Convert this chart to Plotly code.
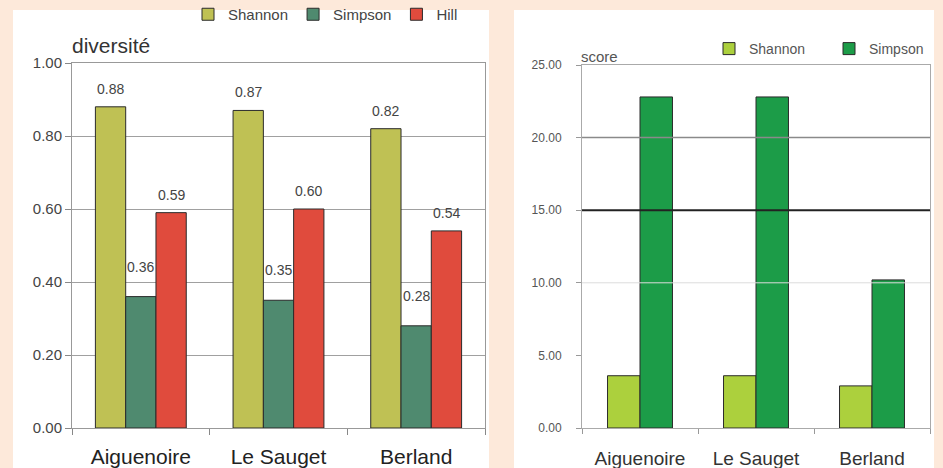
import plotly.graph_objects as go

# ---- data ----
sites = ["Aiguenoire", "Le Sauget", "Berland"]
div_shannon = [0.88, 0.87, 0.82]
div_simpson = [0.36, 0.35, 0.28]
div_hill = [0.59, 0.60, 0.54]
score_shannon = [3.6, 3.6, 2.9]
score_simpson = [22.8, 22.8, 10.2]
left_ticks = [0.0, 0.2, 0.4, 0.6, 0.8, 1.0]
right_ticks = [0, 5, 10, 15, 20, 25]

W, H = 943, 468
def px(x):
    return x / W
def py(y):
    return (H - y) / H

fig = go.Figure()

edge = dict(color="#2b2b2b", width=1)
# left chart
fig.add_trace(go.Bar(x=sites, y=div_shannon, name="Shannon", marker=dict(color="#bfc154", line=edge),
                     width=0.22, offset=-0.33, xaxis="x", yaxis="y", legend="legend"))
fig.add_trace(go.Bar(x=sites, y=div_simpson, name="Simpson", marker=dict(color="#4f8a6f", line=edge),
                     width=0.22, offset=-0.11, xaxis="x", yaxis="y", legend="legend"))
fig.add_trace(go.Bar(x=sites, y=div_hill, name="Hill", marker=dict(color="#e04b3d", line=edge),
                     width=0.22, offset=0.11, xaxis="x", yaxis="y", legend="legend"))
# right chart
fig.add_trace(go.Bar(x=sites, y=score_shannon, name="Shannon", marker=dict(color="#acd03d", line=edge),
                     width=0.28, offset=-0.28, xaxis="x2", yaxis="y2", legend="legend2"))
fig.add_trace(go.Bar(x=sites, y=score_simpson, name="Simpson", marker=dict(color="#1c9c48", line=edge),
                     width=0.28, offset=0.0, xaxis="x2", yaxis="y2", legend="legend2"))

font = "Liberation Sans, Arial"
annotations = []
# value labels on left chart
for vals, dx, ysh in [(div_shannon, -0.22, 8), (div_simpson, 0.0, 20), (div_hill, 0.22, 8)]:
    for i, (s, v) in enumerate(zip(sites, vals)):
        annotations.append(dict(x=i + dx, y=v, xref="x", yref="y", text=f"{v:.2f}", showarrow=False,
                                yanchor="bottom", yshift=ysh, font=dict(size=14, color="#444", family=font)))
annotations.append(dict(x=px(70), y=py(46), xref="paper", yref="paper", text="diversité", showarrow=False,
                        xanchor="left", yanchor="middle", font=dict(size=21, color="#333", family=font)))
annotations.append(dict(x=px(579), y=py(56), xref="paper", yref="paper", text="score", showarrow=False,
                        xanchor="left", yanchor="middle", font=dict(size=15, color="#555", family=font)))

shapes = [
    dict(type="rect", xref="paper", yref="paper", x0=px(13), x1=px(489), y0=0, y1=py(10),
         fillcolor="white", line=dict(width=0), layer="below"),
    dict(type="rect", xref="paper", yref="paper", x0=px(514), x1=px(934), y0=0, y1=py(10),
         fillcolor="white", line=dict(width=0), layer="below"),
    dict(type="line", xref="x2 domain", yref="y2", x0=0, x1=1, y0=20, y1=20, line=dict(color="#8a8a8a", width=1.5)),
    dict(type="line", xref="x2 domain", yref="y2", x0=0, x1=1, y0=15, y1=15, line=dict(color="#222", width=2)),
    dict(type="line", xref="x2 domain", yref="y2", x0=0, x1=1, y0=10, y1=10, line=dict(color="#dcdcdc", width=1)),
]

fig.update_layout(
    width=W, height=H, margin=dict(l=0, r=0, t=0, b=0, autoexpand=False),
    paper_bgcolor="#fde9da", plot_bgcolor="white",
    barmode="overlay",
    font=dict(family=font, color="#444"),
    xaxis=dict(domain=[px(72), px(485)], type="category", tickson="boundaries", ticks="outside", ticklen=6,
               tickcolor="#888", showline=True, linecolor="#999", mirror=True, showgrid=False,
               tickfont=dict(size=21, color="#222"), range=[-0.5, 2.5], ticklabelstandoff=10,
               automargin=False),
    yaxis=dict(domain=[py(428), py(63)], range=[0, 1], tickvals=left_ticks, tickformat=".2f",
               ticks="outside", ticklen=6, tickcolor="#888", showline=True, linecolor="#999", mirror=True,
               showgrid=True, gridcolor="#a0a0a0", gridwidth=1, zeroline=False,
               tickfont=dict(size=15, color="#444"), automargin=False),
    xaxis2=dict(domain=[px(582), px(930)], anchor="y2", type="category", tickson="boundaries", ticks="outside",
                ticklen=5, tickcolor="#999", showline=True, linecolor="#aaa", mirror=True, showgrid=False,
                tickfont=dict(size=19, color="#333"), range=[-0.5, 2.5], ticklabelstandoff=13,
                automargin=False),
    yaxis2=dict(domain=[py(428), py(65)], anchor="x2", range=[0, 25], tickvals=right_ticks, tickformat=".2f",
                ticks="outside", ticklen=5, tickcolor="#999", showline=True, linecolor="#aaa", mirror=True,
                showgrid=False, zeroline=False, tickfont=dict(size=12, color="#555"), automargin=False,
                ticklabelstandoff=12),
    legend=dict(orientation="h", x=px(188), y=py(-2), xanchor="left", yanchor="top",
                font=dict(size=15, color="#444"), bgcolor="rgba(0,0,0,0)", traceorder="normal"),
    legend2=dict(orientation="h", x=px(709), y=py(33), xanchor="left", yanchor="top",
                 font=dict(size=14, color="#555"), bgcolor="rgba(0,0,0,0)", entrywidth=75,
                 traceorder="normal"),
    annotations=annotations, shapes=shapes, showlegend=True,
)

fig.write_html("out.html", config={"displayModeBar": False},
               post_script="document.body.style.margin='0';document.body.style.overflow='hidden';")
